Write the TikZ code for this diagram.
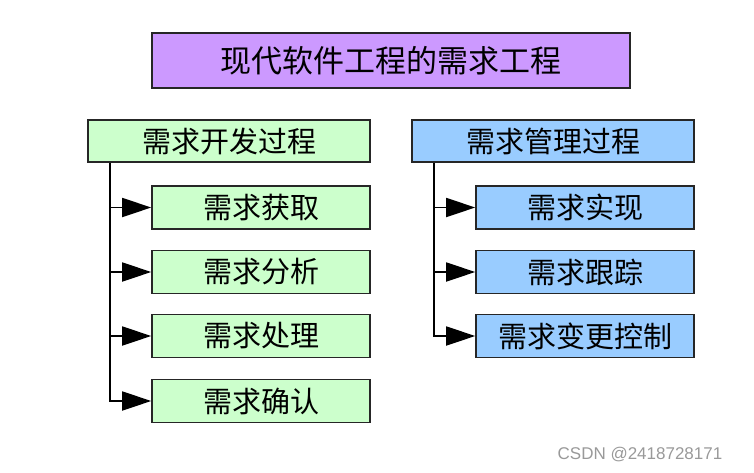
\documentclass[tikz,border=0pt]{standalone}
\usepackage{fontspec}
\setmainfont{Liberation Sans}
\newfontfamily\cjk{Noto Sans CJK SC}
\usetikzlibrary{arrows.meta}

\definecolor{titlepurple}{HTML}{CC99FF}
\definecolor{devgreen}{HTML}{CCFFCC}
\definecolor{mgmtblue}{HTML}{99CCFF}

\begin{document}
\begin{tikzpicture}[x=1pt,y=-1pt,
    box/.style={draw=black!85,line width=1.6pt,inner sep=0pt,
        font=\cjk\fontsize{29}{32}\selectfont},
    subbox/.style={box,minimum width=218pt,minimum height=43pt},
    branch/.style={line width=1.8pt,-{Triangle[length=29pt,width=19pt]}}]
    \useasboundingbox (0,0) rectangle (754,472);
    % title
    \node[box,fill=titlepurple,minimum width=478pt,minimum height=55pt,
        font=\cjk\fontsize{31}{34}\selectfont] (title) at (391,60.5) {现代软件工程的需求工程};
    % two processes
    \node[box,fill=devgreen,minimum width=282pt,minimum height=42pt] (dev) at (229,141) {需求开发过程};
    \node[box,fill=mgmtblue,minimum width=282pt,minimum height=42pt] (mgmt) at (553,141) {需求管理过程};
    % development steps
    \node[subbox,fill=devgreen] (d1) at (261,207.5) {需求获取};
    \node[subbox,fill=devgreen] (d2) at (261,272) {需求分析};
    \node[subbox,fill=devgreen] (d3) at (261,336) {需求处理};
    \node[subbox,fill=devgreen] (d4) at (261,401) {需求确认};
    % management steps
    \node[subbox,fill=mgmtblue] (m1) at (585,207.5) {需求实现};
    \node[subbox,fill=mgmtblue] (m2) at (585,272) {需求跟踪};
    \node[subbox,fill=mgmtblue] (m3) at (585,336) {需求变更控制};
    % trunks
    \coordinate (devtrunk) at (dev.south -| 110,0);
    \coordinate (mgmttrunk) at (mgmt.south -| 434,0);
    \draw[branch] (devtrunk) |- (d4.west);
    \draw[branch] (devtrunk |- d1.west) -- (d1.west);
    \draw[branch] (devtrunk |- d2.west) -- (d2.west);
    \draw[branch] (devtrunk |- d3.west) -- (d3.west);
    \draw[branch] (mgmttrunk) |- (m3.west);
    \draw[branch] (mgmttrunk |- m1.west) -- (m1.west);
    \draw[branch] (mgmttrunk |- m2.west) -- (m2.west);
    % watermark
    \node[text=black!40,font=\fontsize{17}{20}\selectfont] (mark) at (640,455) {CSDN @2418728171};
\end{tikzpicture}
\end{document}
